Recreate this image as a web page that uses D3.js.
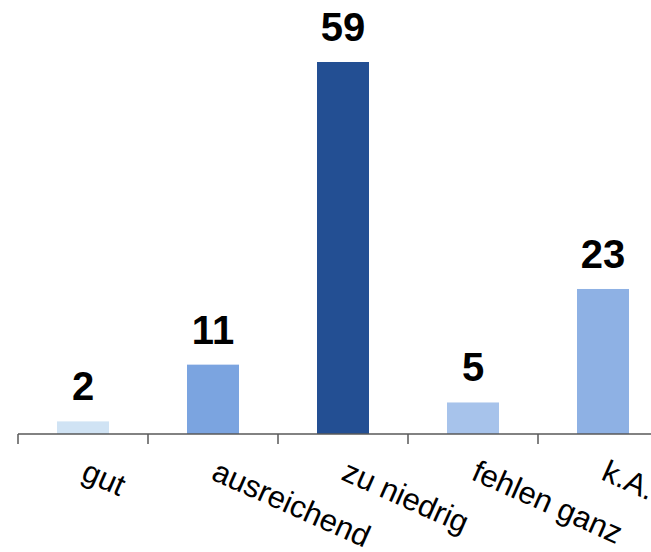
<!DOCTYPE html>
<html>
<head>
<meta charset="utf-8">
<script src="https://cdn.jsdelivr.net/npm/d3@7"></script>
<style>
  html, body { margin: 0; padding: 0; background: #fff; }
  svg { display: block; }
</style>
</head>
<body>
<div id="chart"></div>
<script>
const categories = ["gut", "ausreichend", "zu niedrig", "fehlen ganz", "k.A."];
const values = [2, 11, 59, 5, 23];
const colors = ["#d0e3f4", "#7ba4e0", "#234f93", "#a7c3eb", "#8eb1e4"];

const W = 651, H = 552;
const svg = d3.select("#chart").append("svg").attr("width", W).attr("height", H);

const x0 = 18, x1 = 668, yBase = 434, yTop = 62;
const xCat = d3.scaleBand().domain(categories).range([x0, x1]).padding(0);
const x = d3.scaleBand().domain(categories).range([x0, x1]).paddingInner(0.6).paddingOuter(0.3);
const y = d3.scaleLinear().domain([0, d3.max(values)]).range([yBase, yTop]);

const data = categories.map((c, i) => ({ c, v: values[i], col: colors[i] }));

svg.selectAll("rect.bar").data(data).join("rect")
  .attr("class", "bar")
  .attr("x", d => x(d.c))
  .attr("width", x.bandwidth())
  .attr("y", d => y(d.v))
  .attr("height", d => y(0) - y(d.v))
  .attr("fill", d => d.col);

// value labels
svg.selectAll("text.val").data(data).join("text")
  .attr("class", "val")
  .attr("x", d => x(d.c) + x.bandwidth() / 2)
  .attr("y", d => y(d.v) - 21)
  .attr("text-anchor", "middle")
  .attr("font-family", "Liberation Sans, Arial, sans-serif")
  .attr("font-weight", "bold")
  .attr("font-size", 40)
  .attr("fill", "#000")
  .text(d => d.v);

// axis line
svg.append("line")
  .attr("x1", x0).attr("x2", x1)
  .attr("y1", y(0)).attr("y2", y(0))
  .attr("stroke", "#595959").attr("stroke-width", 1.5);

// ticks at category boundaries
svg.selectAll("line.tick").data(categories).join("line")
  .attr("class", "tick")
  .attr("x1", d => xCat(d)).attr("x2", d => xCat(d))
  .attr("y1", y(0)).attr("y2", y(0) + 10)
  .attr("stroke", "#595959").attr("stroke-width", 1.5);

// category labels, rotated
svg.selectAll("text.cat").data(categories).join("text")
  .attr("class", "cat")
  .attr("transform", d => `translate(${x(d) + x.bandwidth() / 2 - 3},${yBase + 45}) rotate(24)`)
  .attr("text-anchor", "start")
  .attr("font-family", "Liberation Sans, Arial, sans-serif")
  .attr("font-size", 31)
  .attr("fill", "#000")
  .text(d => d);
</script>
</body>
</html>
